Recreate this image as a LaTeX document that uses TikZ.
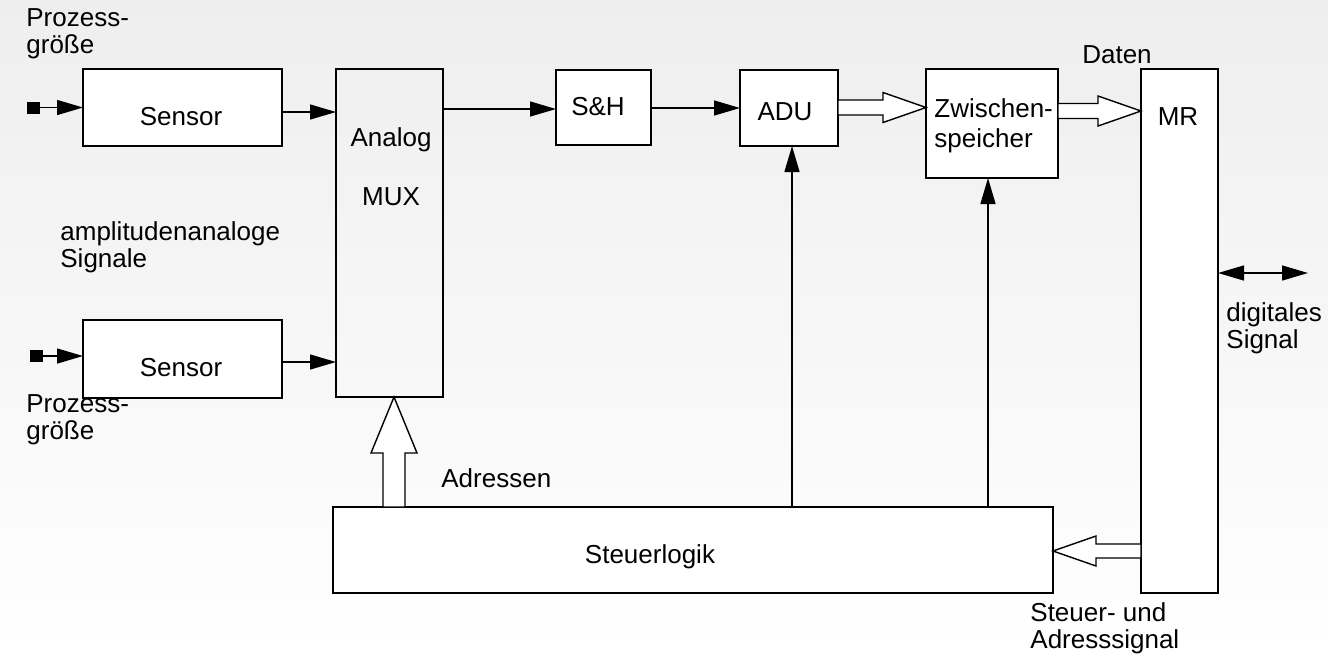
\documentclass[tikz,border=0pt]{standalone}
\usepackage{fontspec}
\setmainfont{Liberation Sans}
\usetikzlibrary{arrows.meta,calc,positioning}
\definecolor{bgtop}{RGB}{238,238,238}
\tikzset{
  blk/.style={draw,line width=1pt,fill=white,inner sep=0pt,outer sep=0pt},
  txt/.style={inner sep=0pt,font=\fontsize{13}{13.5}\selectfont},
  ltxt/.style={txt,anchor=west,align=left},
  srcsq/.style={fill=black,inner sep=0pt,minimum width=6.5pt,minimum height=6pt},
  sig/.style={line width=0.7pt,-{Triangle[length=13pt,width=7.5pt]}},
  fat/.style={line width=0.7pt,fill=white,line join=miter}
}
\begin{document}
\begin{tikzpicture}[x=0.5pt,y=-0.5pt]
\shade[top color=bgtop,bottom color=white] (0,0) rectangle (1328,660);
\useasboundingbox (0,0) rectangle (1328,660);

% boxes
\node[blk,minimum width=99.5pt,minimum height=38.5pt] (sen1) at (182.5,107.5) {};
\node[blk,minimum width=99.5pt,minimum height=39pt] (sen2) at (182.5,359) {};
\node[blk,fill=none,minimum width=53.5pt,minimum height=164pt] (mux) at (389.5,233) {};
\node[blk,minimum width=47.5pt,minimum height=37.5pt] (sh) at (603.5,107.5) {};
\node[blk,minimum width=49pt,minimum height=38pt] (adu) at (789,108) {};
\node[blk,minimum width=66pt,minimum height=54.5pt] (zw) at (992,123.5) {};
\node[blk,minimum width=38.5pt,minimum height=262pt] (mr) at (1179.5,331) {};
\node[blk,minimum width=360pt,minimum height=43pt] (sl) at (693,550) {};

% texts in boxes
\node[txt] at (181,117) {Sensor};
\node[txt] at (181,368) {Sensor};
\node[txt] at (391,140) {Analog};
\node[txt] at (391,197) {MUX};
\node[txt] at (598,107) {S\&H};
\node[txt] at (785,112) {ADU};
\node[ltxt,font=\fontsize{13}{15}\selectfont] at (934,126) {Zwischen-\\speicher};
\node[txt] at (1178,117) {MR};
\node[txt] at (650,557) {Steuerlogik};

% free labels
\node[ltxt] at (26,34) {Prozess-\\größe};
\node[ltxt] at (60,247) {amplitudenanaloge\\Signale};
\node[ltxt] at (26,420) {Prozess-\\größe};
\node[ltxt] at (441,478) {Adressen};
\node[txt] at (1117,55) {Daten};
\node[ltxt] at (1226,328) {digitales\\Signal};
\node[ltxt] at (1030,628) {Steuer- und\\Adresssignal};

% inputs
\node[srcsq] (in1) at (33.5,107.5) {};
\node[srcsq] (in2) at (36.5,356) {};
\draw[sig] (in1) -- (sen1.west |- in1);
\draw[sig] (in2) -- (sen2.west |- in2);

% signal path
\draw[sig] (sen1.east |- 0,112) -- (mux.west |- 0,112);
\draw[sig] (sen2.east |- 0,362) -- (mux.west |- 0,362);
\draw[sig] (mux.east |- 0,109) -- (sh.west |- 0,109);
\draw[sig] (sh.east |- 0,108) -- (adu.west |- 0,108);
\draw[sig] (sl.north -| 792,0) -- (adu.south -| 792,0);
\draw[sig] (sl.north -| 988,0) -- (zw.south -| 988,0);
\draw[line width=0.7pt,{Triangle[length=13pt,width=7.5pt]}-{Triangle[length=13pt,width=7.5pt]}]
  (mr.east |- 0,273) -- ++(90,0);

% wide arrows
\coordinate (t1) at (zw.west |- 0,107.5);
\draw[fat] (t1) -- ($(t1)+(-43,-15)$) -- ($(t1)+(-43,-7.5)$) -- (adu.east |- 0,100)
  -- (adu.east |- 0,115) -- ($(t1)+(-43,7.5)$) -- ($(t1)+(-43,15)$) -- cycle;
\coordinate (t2) at (mr.west |- 0,111);
\draw[fat] (t2) -- ($(t2)+(-43,-15)$) -- ($(t2)+(-43,-7.5)$) -- (zw.east |- 0,103.5)
  -- (zw.east |- 0,118.5) -- ($(t2)+(-43,7.5)$) -- ($(t2)+(-43,15)$) -- cycle;
\coordinate (t3) at (mux.south -| 394,0);
\draw[fat] (t3) -- ($(t3)+(-23,56)$) -- ($(t3)+(-11,56)$) -- (sl.north -| 383,0)
  -- (sl.north -| 405,0) -- ($(t3)+(11,56)$) -- ($(t3)+(23,56)$) -- cycle;
\coordinate (t4) at (sl.east |- 0,551);
\draw[fat] (t4) -- ($(t4)+(43,-15)$) -- ($(t4)+(43,-7)$) -- (mr.west |- 0,544)
  -- (mr.west |- 0,558) -- ($(t4)+(43,7)$) -- ($(t4)+(43,15)$) -- cycle;
\end{tikzpicture}
\end{document}
